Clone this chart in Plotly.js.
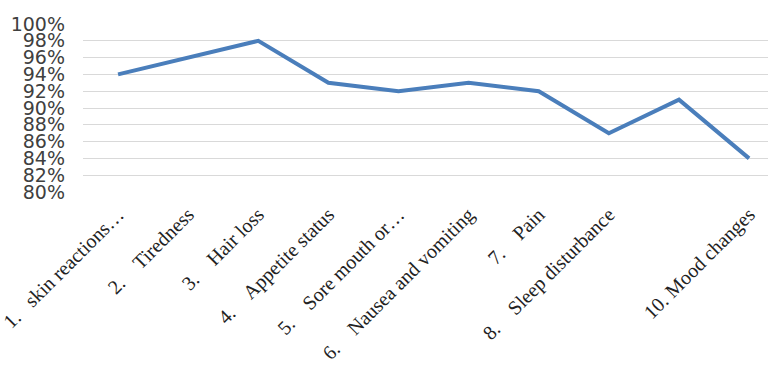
<!DOCTYPE html>
<html>
<head>
<meta charset="utf-8">
<script src="https://cdn.plot.ly/plotly-3.0.1.min.js"></script>
<style>html,body{margin:0;padding:0;background:#fff;}#chart{width:768px;height:378px;}</style>
</head>
<body>
<div id="chart"></div>
<script>
const S = '\u00a0';
const categories = [
  '1.' + S.repeat(3) + 'skin reactions…',
  '2.' + S.repeat(4) + 'Tiredness',
  '3.' + S.repeat(4) + 'Hair loss',
  '4.' + S.repeat(4) + 'Appetite status',
  '5.' + S.repeat(4) + 'Sore mouth or…',
  '6.' + S.repeat(4) + 'Nausea and vomiting',
  '7.' + S.repeat(4) + 'Pain',
  '8.' + S.repeat(4) + 'Sleep disturbance',
  '',
  '10.' + S.repeat(1) + 'Mood changes'
];
const values = [94, 96, 98, 93, 92, 93, 92, 87, 91, 84];
const yTicks = [80, 82, 84, 86, 88, 90, 92, 94, 96, 98, 100];

const idx = categories.map((_, i) => i);

Plotly.newPlot('chart', [{
  x: idx,
  y: values,
  type: 'scatter',
  mode: 'lines',
  line: {color: '#4a7ebb', width: 4},
  hoverinfo: 'skip'
}], {
  width: 768, height: 378,
  margin: {l: 83, r: 0, t: 24, b: 186},
  paper_bgcolor: '#ffffff', plot_bgcolor: '#ffffff',
  showlegend: false,
  xaxis: {
    range: [-0.5, 9.27],
    tickvals: idx,
    ticktext: categories,
    tickangle: -45,
    showgrid: false, zeroline: false, showline: false,
    ticks: '',
    ticklabelstandoff: 6,
    ticklabeloverflow: 'allow',
    tickfont: {family: 'Liberation Serif', size: 20, color: '#222222'}
  },
  yaxis: {
    range: [80, 100],
    tickvals: yTicks,
    ticktext: yTicks.map(v => v + '%'),
    showgrid: true, gridcolor: '#d9d9d9', gridwidth: 1,
    zeroline: false, showline: false, ticks: '',
    ticklabelstandoff: 17,
    tickfont: {family: 'DejaVu Sans', size: 19, color: '#404040'}
  }
}, {staticPlot: true});
</script>
</body>
</html>
